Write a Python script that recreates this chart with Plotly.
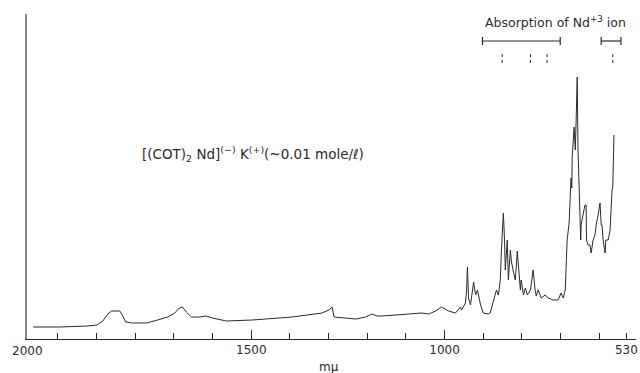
import plotly.graph_objects as go

# Wavelength (m\u03bc) and relative absorbance
wavelength = [2064, 1995, 1923, 1899, 1884, 1871, 1861, 1840, 1832, 1825, 1807,
              1771, 1742, 1716, 1698, 1686, 1678, 1668, 1655, 1634, 1616, 1601,
              1564, 1497, 1394, 1351, 1317, 1299, 1291, 1286, 1265, 1229, 1204,
              1188, 1175, 1162, 1126, 1093, 1059, 1041, 1023, 1008, 990, 972,
              959, 956, 946, 943, 941, 938, 933, 925, 920, 915, 907, 900, 887,
              882, 874, 866, 861, 856, 853, 848, 845, 843, 838, 835, 830, 827,
              822, 817, 812, 809, 804, 802, 796, 791, 786, 778, 771, 766, 763,
              758, 750, 740, 732, 719, 706, 699, 693, 688, 686, 683, 678, 675,
              673, 671, 670, 665, 662, 660, 657, 655, 652, 650, 648, 647, 642,
              637, 634, 633, 629, 624, 621, 616, 611, 608, 603, 598, 595, 593,
              590, 585, 583, 577, 572, 570, 567, 565, 562]
absorbance = [0.048, 0.048, 0.052, 0.056, 0.072, 0.100, 0.112, 0.112, 0.092, 0.068, 0.064,
              0.064, 0.076, 0.088, 0.104, 0.124, 0.128, 0.108, 0.088, 0.088, 0.092, 0.084,
              0.072, 0.076, 0.088, 0.096, 0.104, 0.116, 0.128, 0.088, 0.084, 0.080, 0.088,
              0.100, 0.092, 0.092, 0.096, 0.100, 0.104, 0.100, 0.112, 0.128, 0.112, 0.104,
              0.128, 0.116, 0.144, 0.196, 0.288, 0.164, 0.136, 0.228, 0.176, 0.196, 0.136, 0.104, 0.100,
              0.104, 0.148, 0.196, 0.176, 0.236, 0.356, 0.504, 0.396, 0.276, 0.396, 0.236, 0.356, 0.308,
              0.268, 0.236, 0.352, 0.276, 0.196, 0.236, 0.176, 0.204, 0.176, 0.196, 0.276, 0.196, 0.172,
              0.196, 0.164, 0.176, 0.164, 0.156, 0.156, 0.184, 0.164, 0.196, 0.276, 0.396, 0.464, 0.568,
              0.644, 0.604, 0.728, 0.848, 0.756, 0.864, 1.048, 0.756, 0.624, 0.544, 0.396, 0.456, 0.496,
              0.536, 0.536, 0.396, 0.376, 0.376, 0.344, 0.396, 0.416, 0.456, 0.496, 0.544, 0.456, 0.456,
              0.396, 0.344, 0.396, 0.396, 0.436, 0.516, 0.596, 0.608, 0.816]

label_tick_values = [1500, 1000, 530]
label_tick_text = ["1500", "1000", "530"]
minor_tick_values = [2000, 1900, 1800, 1700, 1600, 1400, 1300, 1200, 1100,
                     900, 800, 700, 600]
major_tick_values = [1500, 1000]

# Nd+3 absorption bands (bracket ranges) and line positions
nd_brackets = [(902, 701), (595, 544)]
nd_lines = [851, 778, 735, 565]

ink = "#2a2a2a"
font_family = "DejaVu Sans, Liberation Sans, sans-serif"
x_range = [2080, 505]

fig = go.Figure()
fig.add_trace(go.Scatter(x=wavelength, y=absorbance, mode="lines",
                         line=dict(color=ink, width=1), showlegend=False,
                         hoverinfo="skip"))
# invisible traces to activate the overlay axes carrying extra ticks
for ax in ("x2", "x3"):
    fig.add_trace(go.Scatter(x=[wavelength[0]], y=[absorbance[0]], xaxis=ax, mode="lines",
                             line=dict(width=0), showlegend=False, hoverinfo="skip"))

shapes = []
br_y = 1.192
for a, b in nd_brackets:
    shapes.append(dict(type="line", xref="x", yref="y", x0=a, x1=b, y0=br_y, y1=br_y,
                       line=dict(color=ink, width=1.2)))
    for e in (a, b):
        shapes.append(dict(type="line", xref="x", yref="y", x0=e, x1=e,
                           y0=br_y - 0.016, y1=br_y + 0.016, line=dict(color=ink, width=1.2)))
for v in nd_lines:
    shapes.append(dict(type="line", xref="x", yref="y", x0=v, x1=v, y0=1.104, y1=1.144,
                       line=dict(color=ink, width=1, dash="dot")))

annotations = [
    dict(text="Absorption of Nd<sup>+3</sup> ion", x=714, y=1.268, xref="x", yref="y",
         showarrow=False, font=dict(family=font_family, size=12.5, color=ink)),
    dict(text="[(COT)<sub>2</sub> Nd]<sup>(\u2212)</sup> K<sup>(+)</sup>(~0.01 mole/\u2113)",
         x=1495, y=0.74, xref="x", yref="y", showarrow=False,
         font=dict(family=font_family, size=13.5, color=ink)),
    dict(text="2000", x=2080, y=0, xref="x", yref="paper", yanchor="top", yshift=-3,
         showarrow=False, font=dict(family=font_family, size=12, color=ink)),
    dict(text="m\u03bc", x=1299, y=0, xref="x", yref="paper", yanchor="middle", yshift=-28,
         showarrow=False, font=dict(family=font_family, size=12, color=ink)),
]

overlay_common = dict(range=x_range, overlaying="x", side="bottom", showgrid=False,
                      zeroline=False, showline=False, tickmode="array", ticks="inside",
                      tickcolor=ink, tickwidth=1, showticklabels=False)

fig.update_layout(
    width=640, height=373,
    margin=dict(l=27, r=2, t=14, b=34),
    paper_bgcolor="white", plot_bgcolor="white",
    shapes=shapes, annotations=annotations,
    xaxis=dict(range=x_range, showgrid=False, zeroline=False,
               showline=True, linecolor=ink, linewidth=1,
               tickmode="array", tickvals=label_tick_values, ticktext=label_tick_text,
               ticks="inside", ticklen=6, tickcolor=ink, tickwidth=1,
               tickfont=dict(family=font_family, size=12, color=ink)),
    xaxis2=dict(tickvals=minor_tick_values, ticklen=6, **overlay_common),
    xaxis3=dict(tickvals=major_tick_values, ticklen=9, **overlay_common),
    yaxis=dict(range=[0, 1.3], showgrid=False, zeroline=False,
               showline=True, linecolor="#888", linewidth=1.5,
               showticklabels=False, ticks=""),
)

fig.write_html("out.html", config={"displayModeBar": False},
               post_script="document.body.style.margin='0';")
